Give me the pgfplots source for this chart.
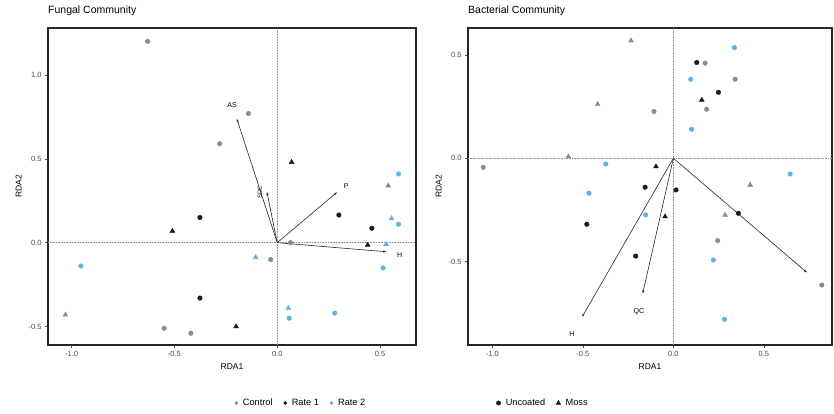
\documentclass[border=0pt]{standalone}
\usepackage{fontspec}
\setmainfont{Liberation Sans}
\usepackage{pgfplots}
\pgfplotsset{compat=1.18}
\usetikzlibrary{arrows.meta}

\definecolor{ctrl}{HTML}{8C8C8C}
\definecolor{rateone}{HTML}{1A1A1A}
\definecolor{ratetwo}{HTML}{5AB4E5}
\definecolor{tickgrey}{HTML}{4D4D4D}

\pgfplotsset{
  rda/.style={
    scale only axis, width=368pt, height=317pt,
    axis line style={line width=1.2pt, black!85},
    tick align=outside, major tick length=3pt,
    xtick pos=left, ytick pos=left,
    tick style={tickgrey, line width=0.5pt},
    ticklabel style={font=\fontsize{7.5}{9}\selectfont, text=tickgrey},
    /pgf/number format/assume math mode=true,
    /pgf/number format/fixed, /pgf/number format/fixed zerofill,
    /pgf/number format/precision=1,
    xlabel={RDA1}, ylabel={RDA2},
    label style={font=\fontsize{8.5}{10}\selectfont},
    title style={at={(0,1)}, anchor=south west, yshift=3pt, inner xsep=0pt,
                 font=\fontsize{10.5}{12}\selectfont},
    legend style={draw=none, font=\fontsize{9.2}{11}\selectfont,
                  /tikz/every even column/.append style={column sep=9pt},
                  /tikz/every odd column/.append style={column sep=3pt}},
  },
  ctrlc/.style={only marks, mark=*, mark size=2.3pt, color=ctrl},
  ctrlt/.style={only marks, mark=triangle*, mark size=2.8pt, color=ctrl},
  r1c/.style={only marks, mark=*, mark size=2.3pt, color=rateone},
  r1t/.style={only marks, mark=triangle*, mark size=2.8pt, color=rateone},
  r2c/.style={only marks, mark=*, mark size=2.3pt, color=ratetwo},
  r2t/.style={only marks, mark=triangle*, mark size=2.8pt, color=ratetwo},
  zeroline/.style={ctrl, densely dotted, line width=0.6pt, forget plot},
  envarrow/.style={-{Stealth[length=3pt, width=2.4pt]}, line width=0.6pt, black!85},
}

\begin{document}
\begin{tikzpicture}
\useasboundingbox (0,0) rectangle (834pt,413pt);

% ---------------- Fungal community ----------------
\begin{axis}[rda, at={(48pt,68pt)}, anchor=south west,
  title={Fungal Community},
  xmin=-1.115, xmax=0.675, ymin=-0.61, ymax=1.28,
  xtick={-1,-0.5,0,0.5}, ytick={-0.5,0,0.5,1},
  legend style={at={(0.6875,-0.183)}, anchor=center},
  legend columns=3]
\addlegendimage{only marks, mark=*, mark size=1.6pt, color=ctrl}
\addlegendentry{Control}
\addlegendimage{only marks, mark=*, mark size=1.6pt, color=rateone}
\addlegendentry{Rate 1}
\addlegendimage{only marks, mark=*, mark size=1.6pt, color=ratetwo}
\addlegendentry{Rate 2}

\addplot[zeroline] coordinates {(0,-0.61) (0,1.28)};
\addplot[zeroline] coordinates {(-1.115,0) (0.675,0)};

% environmental vectors
\addplot[envarrow, forget plot] coordinates {(0,0) (-0.196,0.737)};
\addplot[envarrow, forget plot] coordinates {(0,0) (-0.05,0.30)};
\addplot[envarrow, forget plot] coordinates {(0,0) (0.29,0.30)};
\addplot[envarrow, forget plot] coordinates {(0,0) (0.53,-0.054)};
\node[font=\fontsize{7}{8}\selectfont] at (axis cs:-0.22,0.82) {AS};
\node[font=\fontsize{6}{7}\selectfont, rotate=90, inner sep=0.5pt] at (axis cs:-0.085,0.30) {SOC};
\node[font=\fontsize{7}{8}\selectfont] at (axis cs:0.335,0.34) {P};
\node[font=\fontsize{7}{8}\selectfont] at (axis cs:0.595,-0.075) {H};

% sites: control
\addplot[ctrlc, forget plot] coordinates {(-0.63,1.20) (-0.14,0.77) (-0.28,0.59)
  (0.065,0.0) (-0.032,-0.10) (-0.55,-0.51) (-0.42,-0.54)};
\addplot[ctrlt, forget plot] coordinates {(0.54,0.34) (-1.03,-0.43)};
% sites: rate 1
\addplot[r1c, forget plot] coordinates {(0.30,0.165) (-0.376,0.15) (0.46,0.086) (-0.376,-0.33)};
\addplot[r1t, forget plot] coordinates {(0.07,0.48) (-0.51,0.07) (0.44,-0.014) (-0.20,-0.50)};
% sites: rate 2
\addplot[r2c, forget plot] coordinates {(0.59,0.41) (0.59,0.11) (0.515,-0.15)
  (-0.955,-0.139) (0.058,-0.45) (0.28,-0.42)};
\addplot[r2t, forget plot] coordinates {(0.556,0.145) (0.53,-0.01) (-0.105,-0.087) (0.054,-0.39)};
\end{axis}

% ---------------- Bacterial community ----------------
\begin{axis}[rda, at={(468pt,68pt)}, anchor=south west, width=364pt,
  title={Bacterial Community},
  xmin=-1.134, xmax=0.876, ymin=-0.903, ymax=0.63,
  xtick={-1,-0.5,0,0.5}, ytick={-0.5,0,0.5},
  legend style={at={(0.206,-0.183)}, anchor=center},
  legend columns=2]
\addlegendimage{only marks, mark=*, mark size=2.2pt, color=rateone}
\addlegendentry{Uncoated}
\addlegendimage{only marks, mark=triangle*, mark size=2.6pt, color=rateone}
\addlegendentry{Moss}

\addplot[zeroline] coordinates {(0,-0.903) (0,0.63)};
\addplot[zeroline] coordinates {(-1.134,0) (0.876,0)};

% environmental vectors
\addplot[envarrow, forget plot] coordinates {(0,0) (0.737,-0.552)};
\addplot[envarrow, forget plot] coordinates {(0,0) (-0.169,-0.653)};
\addplot[envarrow, forget plot] coordinates {(0,0) (-0.503,-0.766)};
\node[font=\fontsize{7}{8}\selectfont] at (axis cs:-0.19,-0.74) {QC};
\node[font=\fontsize{7}{8}\selectfont] at (axis cs:-0.56,-0.85) {H};

% sites: control
\addplot[ctrlc, forget plot] coordinates {(0.175,0.46) (0.341,0.382) (0.184,0.237)
  (-0.107,0.226) (-1.05,-0.044) (0.245,-0.398) (0.82,-0.613)};
\addplot[ctrlt, forget plot] coordinates {(-0.234,0.569) (-0.418,0.261) (-0.58,0.008)
  (0.424,-0.129) (0.286,-0.274)};
% sites: rate 1
\addplot[r1c, forget plot] coordinates {(0.129,0.463) (0.249,0.319) (-0.156,-0.14)
  (0.015,-0.153) (-0.478,-0.319) (0.359,-0.266) (-0.208,-0.473)};
\addplot[r1t, forget plot] coordinates {(0.157,0.282) (-0.096,-0.04) (-0.046,-0.282)};
% sites: rate 2
\addplot[r2c, forget plot] coordinates {(0.337,0.535) (0.096,0.382) (0.101,0.14)
  (-0.373,-0.028) (0.645,-0.076) (-0.466,-0.169) (-0.153,-0.274) (0.221,-0.492) (0.282,-0.779)};
\end{axis}
\end{tikzpicture}
\end{document}
